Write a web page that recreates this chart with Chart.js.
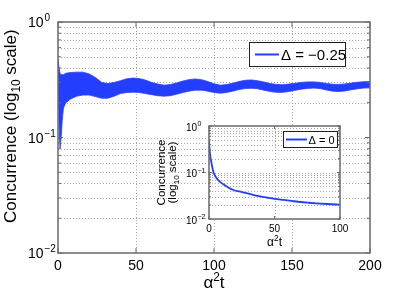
<!DOCTYPE html>
<html><head><meta charset="utf-8">
<script src="https://cdn.jsdelivr.net/npm/chart.js@4"></script>
<style>
html,body{margin:0;padding:0;background:#fff;overflow:hidden}
#wrap{position:relative;width:409px;height:293px}
#main{position:absolute;left:0;top:0}
#inset{position:absolute;left:140px;top:100px}
</style></head><body>
<div id="wrap"><canvas id="main" width="409" height="293"></canvas><canvas id="inset" width="230" height="160"></canvas></div>
<script>
// ---- data ----
const mainT = [0,0.7,1.3,2,2.7,3.5,5,8,12,16,20,24,28,32,36,40,44,48,52,56,60,64,68,72,76,80,84,88,92,96,100,104,108,112,116,120,124,128,132,136,140,144,148,152,156,160,164,168,172,176,180,184,188,192,196,200];
const mainUpper = [0.478,0.40,0.36,0.35,0.35,0.35,0.36,0.365,0.368,0.368,0.355,0.33,0.30,0.293,0.30,0.31,0.322,0.327,0.324,0.314,0.30,0.29,0.284,0.287,0.297,0.308,0.317,0.321,0.317,0.305,0.292,0.284,0.287,0.295,0.305,0.313,0.315,0.31,0.302,0.293,0.288,0.286,0.29,0.295,0.30,0.303,0.303,0.30,0.294,0.289,0.288,0.291,0.296,0.301,0.304,0.305];
const mainLower = [0.45,0.12,0.081,0.10,0.14,0.18,0.20,0.215,0.228,0.233,0.233,0.226,0.219,0.219,0.228,0.24,0.245,0.247,0.245,0.24,0.235,0.23,0.228,0.23,0.237,0.245,0.252,0.257,0.257,0.252,0.245,0.242,0.245,0.252,0.26,0.265,0.267,0.264,0.257,0.25,0.246,0.246,0.25,0.256,0.262,0.266,0.268,0.265,0.258,0.252,0.25,0.253,0.259,0.264,0.268,0.269];
const insetT = [0,0.3,0.6,1,1.5,2.3,3.3,5,6.5,8.4,12,15,18.6,25,31,38,44,50,57,63,70,76,82,90,100];
const insetC = [0.48,0.36,0.28,0.22,0.186,0.14,0.104,0.082,0.071,0.063,0.053,0.047,0.042,0.038,0.0345,0.031,0.029,0.0272,0.0257,0.0245,0.0232,0.0224,0.0217,0.021,0.0203];
const mainXTicks = [0,50,100,150,200];
const insetXTicks = [0,50,100];
const yTicks = [0.01,0.1,1];
const yTickExp = ['\u22122','\u22121','0'];
const mainLegendLabel = '\u0394 = \u22120.25';
const insetLegendLabel = '\u0394 = 0';
const yTitleMain = [['Concurrence (log',0],['10',-1],[' scale)',0]];
const yTitleInset1 = [['Concurrence',0]];
const yTitleInset2 = [['(log',0],['10',-1],[' scale)',0]];
const xTitle = [['\u03b1',0],['2',1],['t',0]];

// ---- style ----
const BLUE = 'rgb(35,62,255)';
const FONT = '"Liberation Sans", Arial, Helvetica, sans-serif';
const AXIS = '#6a6a6a';
const GRID = '#a9a9a9';

function minorLogs(){ const r=[]; [0.01,0.1].forEach(d=>{for(let k=2;k<=9;k++) r.push(d*k);}); return r; }

function rich(ctx, parts, x, y, size, align){
  let w=0; const ms=[];
  parts.forEach(([t,m])=>{ const s = m===0?size:size*0.7; ctx.font = s+'px '+FONT; const mw=ctx.measureText(t).width; ms.push([t,m,s,mw]); w+=mw; });
  let cx = align==='center'? x-w/2 : align==='right'? x-w : x;
  ms.forEach(([t,m,s,mw])=>{ ctx.font = s+'px '+FONT; const dy = m===1? -size*0.42 : m===-1? size*0.28 : 0; ctx.fillText(t,cx,y+dy); cx+=mw; });
  return w;
}

function drawGrid(chart, xs){
  const {ctx, chartArea:a, scales} = chart;
  ctx.save();
  ctx.strokeStyle = GRID; ctx.lineWidth = 1; ctx.setLineDash([1,2]);
  const ys = minorLogs().concat([0.1]);
  ys.forEach(v=>{ const p=Math.round(scales.y.getPixelForValue(v))+0.5; ctx.beginPath(); ctx.moveTo(a.left,p); ctx.lineTo(a.right,p); ctx.stroke(); });
  xs.forEach(v=>{ if(v<=scales.x.min||v>=scales.x.max) return; const p=Math.round(scales.x.getPixelForValue(v))+0.5; ctx.beginPath(); ctx.moveTo(p,a.top); ctx.lineTo(p,a.bottom); ctx.stroke(); });
  ctx.restore();
}

function drawFrame(chart, xs, majLen, minLen, lw){
  const {ctx, chartArea:a, scales} = chart;
  ctx.save();
  ctx.strokeStyle = AXIS; ctx.lineWidth = lw; ctx.setLineDash([]);
  ctx.strokeRect(a.left, a.top, a.right-a.left, a.bottom-a.top);
  ctx.lineWidth = 1;
  const tick=(x1,y1,x2,y2)=>{ctx.beginPath();ctx.moveTo(x1,y1);ctx.lineTo(x2,y2);ctx.stroke();};
  yTicks.forEach(v=>{ const p=scales.y.getPixelForValue(v); tick(a.left,p,a.left+majLen,p); tick(a.right,p,a.right-majLen,p); });
  minorLogs().forEach(v=>{ const p=scales.y.getPixelForValue(v); tick(a.left,p,a.left+minLen,p); tick(a.right,p,a.right-minLen,p); });
  xs.forEach(v=>{ const p=scales.x.getPixelForValue(v); tick(p,a.bottom,p,a.bottom-majLen); tick(p,a.top,p,a.top+majLen); });
  ctx.restore();
}

const mainPlugin = {
  id:'mainFrame',
  beforeDatasetsDraw(chart){ drawGrid(chart, mainXTicks); },
  afterDatasetsDraw(chart){
    const {ctx, chartArea:a, scales} = chart;
    drawFrame(chart, mainXTicks, 5, 3, 1.5);
    ctx.save(); ctx.fillStyle='#000'; ctx.textBaseline='alphabetic';
    // y tick labels
    yTicks.forEach((v,i)=>{ const p=scales.y.getPixelForValue(v);
      ctx.font='14px '+FONT; ctx.textAlign='right'; ctx.fillText('10', 43.5, p+5); ctx.textAlign='left';
      ctx.font='10px '+FONT; ctx.fillText(yTickExp[i], 44.5, p-1); });
    // x tick labels
    ctx.font='14px '+FONT; ctx.textAlign='center';
    mainXTicks.forEach(v=>{ const p=scales.x.getPixelForValue(v); ctx.fillText(String(v), p, 270); });
    ctx.textAlign='left';
    // x title
    rich(ctx, xTitle, (a.left+a.right)/2, 288, 17, 'center');
    // y title
    ctx.save(); ctx.translate(15.5, 223); ctx.rotate(-Math.PI/2); rich(ctx, yTitleMain, 0, 0, 17, 'left'); ctx.restore();
    // legend
    ctx.fillStyle='#fff'; ctx.fillRect(249,42,97,25);
    ctx.strokeStyle='#222'; ctx.lineWidth=1; ctx.strokeRect(249.5,42.5,96,24);
    ctx.strokeStyle=BLUE; ctx.lineWidth=2; ctx.beginPath(); ctx.moveTo(255,54.5); ctx.lineTo(279,54.5); ctx.stroke();
    ctx.fillStyle='#000'; ctx.font='15px '+FONT; ctx.fillText(mainLegendLabel, 281, 60);
    ctx.restore();
  }
};

const OX=140, OY=100;
const insetPlugin = {
  id:'insetFrame',
  beforeDatasetsDraw(chart){
    const {ctx, chartArea:a} = chart;
    ctx.save(); ctx.fillStyle='#fff'; ctx.fillRect(a.left,a.top,a.right-a.left,a.bottom-a.top); ctx.restore();
    drawGrid(chart, insetXTicks);
  },
  afterDatasetsDraw(chart){
    const {ctx, chartArea:a, scales} = chart;
    drawFrame(chart, insetXTicks, 3, 2, 1.5);
    ctx.save(); ctx.fillStyle='#000'; ctx.textBaseline='alphabetic';
    yTicks.forEach((v,i)=>{ const p=scales.y.getPixelForValue(v);
      ctx.font='10px '+FONT; ctx.textAlign='right'; ctx.fillText('10', 197-OX, p+4.5); ctx.textAlign='left';
      ctx.font='7px '+FONT; ctx.fillText(yTickExp[i], 197.5-OX, p); });
    ctx.font='10px '+FONT; ctx.textAlign='center';
    insetXTicks.forEach(v=>{ const p=scales.x.getPixelForValue(v); ctx.fillText(String(v), p, 231.5-OY); });
    ctx.textAlign='left';
    rich(ctx, xTitle, (a.left+a.right)/2, 246-OY, 12, 'center');
    const cy=(a.top+a.bottom)/2;
    ctx.save(); ctx.translate(165-OX, cy); ctx.rotate(-Math.PI/2); rich(ctx, yTitleInset1, 0, 0, 11.5, 'center'); ctx.restore();
    ctx.save(); ctx.translate(176-OX, cy); ctx.rotate(-Math.PI/2); rich(ctx, yTitleInset2, 0, 0, 11.5, 'center'); ctx.restore();
    // legend
    const lx=283.5-OX, ly=131.5-OY;
    ctx.fillStyle='#fff'; ctx.fillRect(lx,ly,54,16);
    ctx.strokeStyle='#222'; ctx.lineWidth=1; ctx.strokeRect(lx,ly,54,16);
    ctx.strokeStyle=BLUE; ctx.lineWidth=2; ctx.beginPath(); ctx.moveTo(286-OX,139.5-OY); ctx.lineTo(307-OX,139.5-OY); ctx.stroke();
    ctx.fillStyle='#000'; ctx.font='11px '+FONT; ctx.fillText(insetLegendLabel, 308.5-OX, 143.5-OY);
    ctx.restore();
  }
};

new Chart(document.getElementById('main'), {
  type:'line',
  data:{ datasets:[
    { data: mainT.map((t,i)=>({x:t,y:mainLower[i]})), borderColor:BLUE, borderWidth:0.8, pointRadius:0, fill:false, tension:0 },
    { data: mainT.map((t,i)=>({x:t,y:mainUpper[i]})), borderColor:BLUE, borderWidth:0.8, pointRadius:0, fill:'-1', backgroundColor:BLUE, tension:0 }
  ]},
  options:{
    responsive:false, animation:false, devicePixelRatio:1,
    layout:{ padding:{ left:58, right:39, top:22, bottom:40 } },
    scales:{ x:{ type:'linear', min:0, max:200, display:false }, y:{ type:'logarithmic', min:0.01, max:1, display:false } },
    plugins:{ legend:{display:false}, tooltip:{enabled:false} }
  },
  plugins:[mainPlugin]
});

new Chart(document.getElementById('inset'), {
  type:'line',
  data:{ datasets:[
    { data: insetT.map((t,i)=>({x:t,y:insetC[i]})), borderColor:BLUE, borderWidth:1.8, pointRadius:0, fill:false, cubicInterpolationMode:'monotone' }
  ]},
  options:{
    responsive:false, animation:false, devicePixelRatio:1,
    layout:{ padding:{ left:209-OX, right:230-(340-OX), top:126-OY, bottom:160-(219-OY) } },
    scales:{ x:{ type:'linear', min:0, max:100, display:false }, y:{ type:'logarithmic', min:0.01, max:1, display:false } },
    plugins:{ legend:{display:false}, tooltip:{enabled:false} }
  },
  plugins:[insetPlugin]
});
</script>
</body></html>
